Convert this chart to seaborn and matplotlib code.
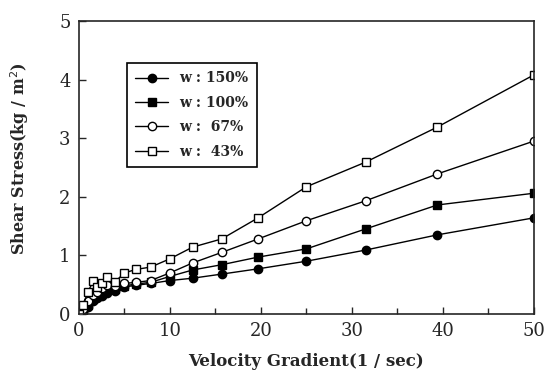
import matplotlib
matplotlib.use("Agg")
from matplotlib import pyplot as plt
import seaborn as sns
import pandas as pd

# Velocity gradient (1/sec)
grad = [0, 0.5, 1.0, 1.6, 2.0, 2.5, 3.15, 4.0, 5.0, 6.3, 7.9, 10, 12.5, 15.7, 19.7, 25, 31.5, 39.4, 50]

# Shear stress (kg/m^2) per water content
w150 = [0, 0.03, 0.12, 0.22, 0.27, 0.30, 0.36, 0.40, 0.46, 0.49, 0.52, 0.57, 0.61, 0.68, 0.77, 0.90, 1.09, 1.35, 1.64]
w100 = [0, 0.05, 0.15, 0.25, 0.30, 0.35, 0.42, 0.42, 0.48, 0.51, 0.54, 0.64, 0.75, 0.84, 0.97, 1.11, 1.45, 1.86, 2.06]
w67 = [0, 0.08, 0.22, 0.32, 0.38, 0.45, 0.50, 0.47, 0.52, 0.54, 0.57, 0.70, 0.87, 1.05, 1.28, 1.59, 1.93, 2.39, 2.95]
w43 = [0, 0.15, 0.38, 0.56, 0.46, 0.53, 0.63, 0.55, 0.70, 0.76, 0.80, 0.94, 1.14, 1.28, 1.64, 2.17, 2.59, 3.19, 4.08]

labels = ["w : 150%", "w : 100%", "w :  67%", "w :  43%"]

sns.set_style("ticks")
plt.rcParams['font.family'] = ['DejaVu Serif']

fig = plt.figure(figsize=(5.51, 3.81), dpi=100)
ax = fig.add_axes([0.143, 0.176, 0.826, 0.769])

# estilo de cada serie: marcador, preenchimento
estilos = [("o", "black"), ("s", "black"), ("o", "white"), ("s", "white")]
for serie, lab, (mk, fc) in zip([w150, w100, w67, w43], labels, estilos):
    df = pd.DataFrame({"x": grad, "y": serie})
    sns.lineplot(data=df, x="x", y="y", ax=ax, color="black", lw=1.0,
                 marker=mk, markersize=6, markerfacecolor=fc,
                 markeredgecolor="black", markeredgewidth=1.0, label=lab)

ax.set_xlim(0, 50)
ax.set_ylim(0, 5)
ax.set_xticks([0, 10, 20, 30, 40, 50])
ax.set_xticks([5, 15, 25, 35, 45], minor=True)
ax.set_yticks([0, 1, 2, 3, 4, 5])
ax.tick_params(direction="in", length=5, width=1, labelsize=13, pad=6)
ax.tick_params(which="minor", direction="in", length=4, width=1)
for s in ax.spines.values():
    s.set_linewidth(1.2)
    s.set_visible(True)

ax.set_xlabel("Velocity Gradient(1 / sec)", fontsize=12, fontweight="bold", labelpad=9)
ax.set_ylabel("Shear Stress(kg / m$^2$)", fontsize=11.5, fontweight="bold")
ax.yaxis.set_label_coords(-0.105, 0.53)

leg = ax.legend(loc="upper left", bbox_to_anchor=(0.09, 0.88), fancybox=False,
                edgecolor="black", framealpha=1, handlelength=2.4,
                prop={"family": "DejaVu Serif", "weight": "bold", "size": 10},
                borderpad=0.6, labelspacing=0.75)
leg.get_frame().set_linewidth(1.2)

fig.savefig("out.png", dpi=100)
